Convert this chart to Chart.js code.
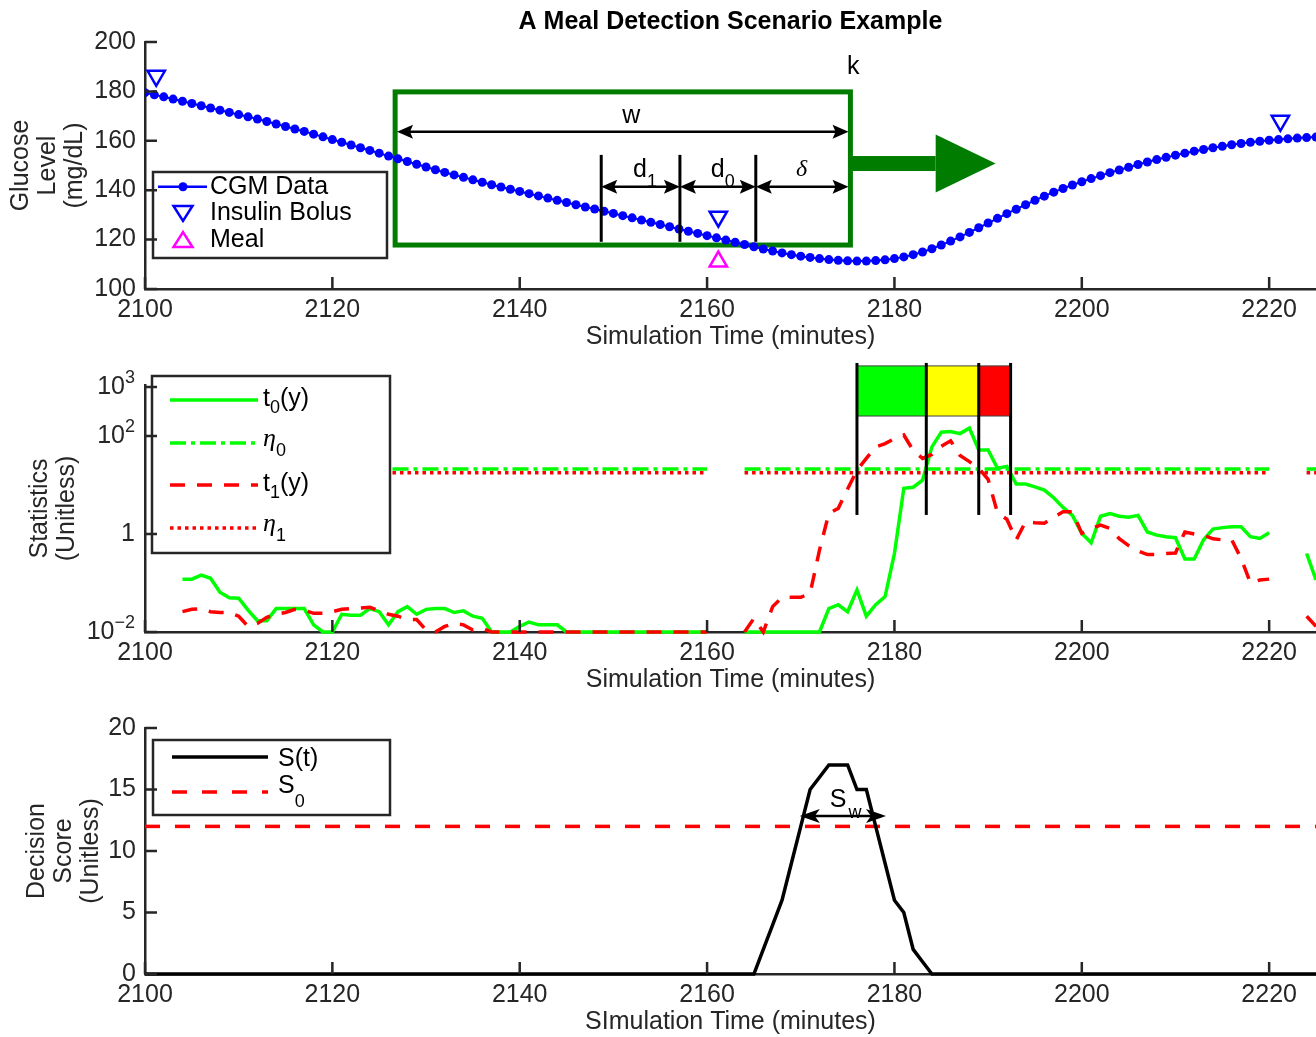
<!DOCTYPE html>
<html>
<head>
<meta charset="utf-8">
<script src="https://cdn.jsdelivr.net/npm/chart.js@4.4.0/dist/chart.umd.min.js"></script>
<style>
  html, body { margin: 0; padding: 0; background: #fff; }
  #wrap { position: relative; width: 1316px; height: 1037px; overflow: hidden; }
  canvas { position: absolute; left: 0; top: 0; }
</style>
</head>
<body>
<div id="wrap">
  <canvas id="cgmChart" width="1316" height="1037"></canvas>
  <canvas id="statChart" width="1316" height="1037"></canvas>
  <canvas id="scoreChart" width="1316" height="1037"></canvas>
</div>
<script>
// ---------- data ----------
const X_MIN = 2100, X_MAX = 2225;
const X_TICKS = [2100, 2120, 2140, 2160, 2180, 2200, 2220];
const MINUTES = Array.from({ length: 126 }, (_, i) => X_MIN + i); // one sample per minute

// CGM glucose (mg/dL), 2100..2225
const CGM = [
  179.5,178.6,177.8,176.9,176.0,175.1,174.2,173.3,172.4,171.5,
  170.6,169.7,168.8,167.8,166.8,165.8,164.8,163.8,162.7,161.6,
  160.5,159.4,158.3,157.2,156.1,155.0,153.8,152.7,151.6,150.5,
  149.4,148.3,147.2,146.2,145.2,144.2,143.2,142.2,141.3,140.4,
  139.5,138.6,137.7,136.8,135.9,135.0,134.1,133.2,132.4,131.5,
  130.6,129.7,128.8,127.9,127.0,126.1,125.2,124.3,123.4,122.5,
  121.6,120.7,119.8,118.9,118.0,117.1,116.2,115.4,114.6,113.9,
  113.3,112.8,112.3,111.9,111.6,111.4,111.3,111.3,111.5,111.8,
  112.3,113.0,113.9,115.0,116.3,117.8,119.4,121.1,122.9,124.8,
  126.7,128.6,130.5,132.3,134.1,135.9,137.6,139.2,140.7,142.1,
  143.4,144.7,145.9,147.1,148.2,149.3,150.4,151.4,152.4,153.3,
  154.2,155.0,155.8,156.5,157.2,157.8,158.4,158.9,159.4,159.8,
  160.2,160.5,160.8,161.1,161.3,161.5
];
const GLU_TICKS = [100, 120, 140, 160, 180, 200];
const BOLUS_TIME = [2101.2, 2161.2, 2221.2];
const BOLUS_LEVEL = [186.3, 129.3, 168.1];
const MEAL_TIME = [2161.2];
const MEAL_LEVEL = [111.1];

// test statistics, 2100..2225 (null = no value)
const T0 = [
  null,null,null,null,0.12,0.12,0.145,0.125,0.065,0.05,
  0.049,0.028,0.017,0.017,0.030,0.030,0.030,0.030,0.014,0.010,
  0.010,0.023,0.022,0.022,0.030,0.026,0.014,0.026,0.033,0.023,
  0.029,0.030,0.030,0.025,0.027,0.021,0.019,0.010,0.010,0.010,
  0.013,0.016,0.014,0.014,0.014,0.010,0.010,0.010,0.010,0.010,
  0.010,0.010,0.010,0.010,0.010,0.010,0.010,0.010,0.010,0.010,
  0.010,null,null,null,0.010,0.010,0.010,0.010,0.010,0.010,
  0.010,0.010,0.010,0.030,0.036,0.026,0.072,0.021,0.036,0.053,
  0.40,8.6,9.0,12.6,60,120,123,112,145,52,
  52,22,24,10.5,10.5,9.2,7.9,5.5,3.5,2.4,
  1.03,0.66,2.3,2.6,2.3,2.2,2.4,1.1,0.95,0.88,
  0.84,0.31,0.31,0.76,1.26,1.35,1.4,1.4,0.88,0.81,
  1.06,null,null,null,0.40,0.115
];
const T1 = [
  null,null,null,null,0.026,0.029,0.030,0.026,0.025,0.025,
  0.021,0.013,0.015,0.020,0.023,0.025,0.029,0.028,0.024,0.024,
  0.026,0.029,0.030,0.031,0.032,0.027,0.023,0.021,0.018,0.018,
  0.011,0.010,0.013,0.015,0.014,0.011,0.012,0.010,0.010,0.010,
  0.010,0.010,0.010,0.010,0.010,0.010,0.010,0.010,0.010,0.010,
  0.010,0.010,0.010,0.010,0.010,0.010,0.010,0.010,0.010,0.010,
  0.010,null,null,null,0.010,0.019,0.010,0.033,0.051,0.051,
  0.051,0.062,0.47,2.64,3.34,8.3,20,35,60,70,
  88,105,51,35,42,62,80,40,30,22,
  13,2.7,2.0,0.76,1.78,1.7,1.66,2.2,2.85,2.85,
  1.03,1.3,1.52,1.3,0.8,0.58,0.45,0.38,0.38,0.40,
  0.41,1.1,1.0,0.95,0.8,0.76,0.76,0.32,0.10,0.115,
  0.12,null,null,null,0.021,0.013
];
const ETA0 = 21.2, ETA1 = 17.8;
const ETA_SEGMENTS = [[2104, 2160], [2164, 2220], [2224, 2225]];
const STAT_TICKS = [0.01, 1, 100, 1000];
const ALARM_EDGES = [2176, 2183.4, 2189, 2192.4];
const ALARM_COLORS = ['#00FF00', '#FFFF00', '#FF0000'];

// decision score
const S_TIME = [2100,2165,2166,2167,2168,2169,2170,2171,2172,2173,2174,2175,2176,2177,2178,2179,2180,2181,2182,2183,2184,2225];
const S_VAL  = [0,   0,   2,   4,   6,   9,   12,  15,  16,  17,  17,  17,  15,  15,  12,  9,   6,   5,   2,   1,   0,   0];
const S0 = 12;
const SCORE_TICKS = [0, 5, 10, 15, 20];

// ---------- look ----------
const FONT = '"Liberation Sans", Arial, Helvetica, sans-serif';
const SERIF = '"Liberation Serif", "Times New Roman", serif';
const AXIS = '#262626';
const WIN_GREEN = '#007D00';
Chart.defaults.font.family = FONT;
Chart.defaults.font.size = 25;
Chart.defaults.color = AXIS;
Chart.defaults.animation = false;

function xScale(title) {
  return {
    type: 'linear', min: X_MIN, max: X_MAX,
    afterBuildTicks: s => { s.ticks = X_TICKS.map(v => ({ value: v })); },
    afterFit: s => { s.height = 62; },
    grid: { display: false, drawTicks: false },
    border: { display: true, color: AXIS, width: 2.5 },
    ticks: { padding: 6, color: AXIS, callback: v => String(v) },
    title: { display: true, text: title, color: AXIS, font: { size: 25, lineHeight: 1.08 }, padding: 0 }
  };
}
function yScale(opts, title, titlePad) {
  return Object.assign({
    afterFit: s => { s.width = 145; },
    grid: { display: false, drawTicks: false },
    border: { display: true, color: AXIS, width: 2.5 },
    ticks: { padding: 9, color: AXIS, callback: v => String(v) },
    title: { display: true, text: title, color: AXIS, font: { size: 25, lineHeight: 1.08 }, padding: { top: titlePad, bottom: 0 } }
  }, opts);
}

// MATLAB-style inward tick marks
const inTicks = {
  id: 'inTicks',
  afterDraw(chart) {
    const { ctx, chartArea: a, scales: { x, y } } = chart;
    ctx.save();
    ctx.strokeStyle = AXIS; ctx.lineWidth = 2.5;
    ctx.beginPath();
    x.ticks.forEach(t => { const p = x.getPixelForValue(t.value); ctx.moveTo(p, a.bottom); ctx.lineTo(p, a.bottom - 12); });
    y.ticks.forEach(t => { const p = y.getPixelForValue(t.value); ctx.moveTo(a.left, p); ctx.lineTo(a.left + 12, p); });
    ctx.stroke();
    ctx.restore();
  }
};

function pts(xs, ys) { return xs.map((x, i) => ({ x, y: ys[i] })); }

function head(ctx, tipX, tipY, dir, len, half, notch) {
  ctx.beginPath();
  ctx.moveTo(tipX, tipY);
  ctx.lineTo(tipX - dir * len, tipY - half);
  ctx.lineTo(tipX - dir * (len - notch), tipY);
  ctx.lineTo(tipX - dir * len, tipY + half);
  ctx.closePath();
  ctx.fill();
}
function dimArrow(ctx, x0, x1, y, len, half, notch) {
  ctx.beginPath(); ctx.moveTo(x0 + 4, y); ctx.lineTo(x1 - 4, y); ctx.stroke();
  head(ctx, x0, y, -1, len, half, notch);
  head(ctx, x1, y, 1, len, half, notch);
}
// text made of pieces: [text, font, dy]
function pieces(ctx, x, y, parts) {
  ctx.textAlign = 'left'; ctx.textBaseline = 'alphabetic';
  parts.forEach(([t, f, dy]) => { ctx.font = f; ctx.fillText(t, x, y + dy); x += ctx.measureText(t).width; });
}
function tri(ctx, x, y, down, color) {
  ctx.save(); ctx.strokeStyle = color; ctx.lineWidth = 2.5;
  ctx.beginPath();
  if (down) { ctx.moveTo(x - 9.5, y - 7); ctx.lineTo(x + 9.5, y - 7); ctx.lineTo(x, y + 8); }
  else { ctx.moveTo(x - 9.5, y + 7); ctx.lineTo(x + 9.5, y + 7); ctx.lineTo(x, y - 8); }
  ctx.closePath(); ctx.stroke(); ctx.restore();
}
function legendBox(ctx, x, y, w, h) {
  ctx.fillStyle = '#fff'; ctx.fillRect(x, y, w, h);
  ctx.strokeStyle = AXIS; ctx.lineWidth = 2.5; ctx.strokeRect(x, y, w, h);
}

const F25 = '25px ' + FONT, F18 = '18px ' + FONT;

// ---------- panel 1: CGM ----------
const cgmDecor = {
  id: 'cgmDecor',
  beforeDatasetsDraw(chart) {
    const { ctx, scales: { x, y } } = chart;
    const X = v => x.getPixelForValue(v), Y = v => y.getPixelForValue(v);
    ctx.save();
    ctx.strokeStyle = WIN_GREEN; ctx.lineWidth = 5;
    ctx.strokeRect(X(2126.7), Y(179.8), X(2175.3) - X(2126.7), Y(117.8) - Y(179.8));
    ctx.restore();
  },
  afterDatasetsDraw(chart) {
    const { ctx, chartArea: a, scales: { x, y } } = chart;
    const X = v => x.getPixelForValue(v), Y = v => y.getPixelForValue(v);
    ctx.save();
    // sliding direction arrow
    ctx.fillStyle = WIN_GREEN;
    const ay = Y(150.8);
    ctx.fillRect(X(2175.3), ay - 7.5, X(2184.4) - X(2175.3), 15);
    ctx.beginPath(); ctx.moveTo(X(2184.4), ay - 29); ctx.lineTo(X(2190.8), ay); ctx.lineTo(X(2184.4), ay + 29); ctx.closePath(); ctx.fill();
    // dimension marks
    ctx.strokeStyle = '#000'; ctx.fillStyle = '#000'; ctx.lineWidth = 3;
    [2148.7, 2157.1, 2165.2].forEach(v => { ctx.beginPath(); ctx.moveTo(X(v), Y(154.3)); ctx.lineTo(X(v), Y(119.1)); ctx.stroke(); });
    ctx.lineWidth = 2.5;
    dimArrow(ctx, X(2126.9), X(2175.1), Y(163.7), 16, 7, 3);
    dimArrow(ctx, X(2148.7), X(2157.1), Y(141.4), 16, 7, 3);
    dimArrow(ctx, X(2157.1), X(2165.2), Y(141.4), 16, 7, 3);
    dimArrow(ctx, X(2165.2), X(2175.1), Y(141.4), 16, 7, 3);
    ctx.fillStyle = '#000';
    ctx.font = F25; ctx.textAlign = 'center'; ctx.textBaseline = 'alphabetic';
    ctx.fillText('w', X(2151.9), Y(167.1));
    ctx.fillText('k', X(2175.6), Y(186.9));
    pieces(ctx, X(2152.1), Y(145.5), [['d', F25, 0], ['1', F18, 10]]);
    pieces(ctx, X(2160.4), Y(145.5), [['d', F25, 0], ['0', F18, 10]]);
    ctx.font = 'italic 24px ' + SERIF; ctx.textAlign = 'center';
    ctx.fillText('\u03b4', X(2170.1), Y(145.6));
    // legend
    const lx = a.left + 8, ly = a.top + 130;
    legendBox(ctx, lx, ly, 234, 86);
    ctx.strokeStyle = '#0000FF'; ctx.fillStyle = '#0000FF'; ctx.lineWidth = 2.5;
    ctx.beginPath(); ctx.moveTo(lx + 5, ly + 14.7); ctx.lineTo(lx + 54, ly + 14.7); ctx.stroke();
    ctx.beginPath(); ctx.arc(lx + 30, ly + 14.7, 4.5, 0, Math.PI * 2); ctx.fill();
    tri(ctx, lx + 30, ly + 41, true, '#0000FF');
    tri(ctx, lx + 30, ly + 68, false, '#FF00FF');
    ctx.fillStyle = '#000'; ctx.font = F25; ctx.textAlign = 'left'; ctx.textBaseline = 'middle';
    ctx.fillText('CGM Data', lx + 57, ly + 14.7);
    ctx.fillText('Insulin Bolus', lx + 57, ly + 41);
    ctx.fillText('Meal', lx + 57, ly + 68);
    // title
    ctx.font = 'bold 25px ' + FONT; ctx.textAlign = 'center'; ctx.textBaseline = 'middle';
    ctx.fillText('A Meal Detection Scenario Example', (a.left + a.right) / 2, 22);
    ctx.restore();
  }
};

new Chart(document.getElementById('cgmChart'), {
  type: 'line',
  data: {
    datasets: [
      { label: 'CGM Data', data: pts(MINUTES, CGM), borderColor: '#0000FF', borderWidth: 2,
        pointRadius: 4.5, pointBackgroundColor: '#0000FF', pointBorderWidth: 0, order: 3 },
      { label: 'Insulin Bolus', data: pts(BOLUS_TIME, BOLUS_LEVEL), showLine: false, pointStyle: 'triangle',
        pointRotation: 180, pointRadius: 10, pointBorderColor: '#0000FF', pointBorderWidth: 2.5,
        pointBackgroundColor: 'rgba(0,0,0,0)', order: 2 },
      { label: 'Meal', data: pts(MEAL_TIME, MEAL_LEVEL), showLine: false, pointStyle: 'triangle',
        pointRadius: 10, pointBorderColor: '#FF00FF', pointBorderWidth: 2.5,
        pointBackgroundColor: 'rgba(0,0,0,0)', order: 1 }
    ]
  },
  options: {
    responsive: false, devicePixelRatio: 1,
    layout: { autoPadding: false, padding: { left: 0, right: 0, top: 42, bottom: 1037 - 289 - 62 } },
    plugins: { legend: { display: false }, tooltip: { enabled: false } },
    scales: {
      x: xScale('Simulation Time (minutes)'),
      y: yScale({ type: 'linear', min: 100, max: 200,
        afterBuildTicks: s => { s.ticks = GLU_TICKS.map(v => ({ value: v })); } },
        ['Glucose', 'Level', '(mg/dL)'], 8)
    }
  },
  plugins: [inTicks, cgmDecor]
});

// ---------- panel 2: statistics ----------
function etaPoints(level) {
  const out = [];
  ETA_SEGMENTS.forEach(([a, b], i) => {
    if (i) out.push({ x: a - 0.5, y: null });
    out.push({ x: a, y: level }, { x: b, y: level });
  });
  return out;
}

const statDecor = {
  id: 'statDecor',
  afterDatasetsDraw(chart) {
    const { ctx, chartArea: a, scales: { x, y } } = chart;
    const X = v => x.getPixelForValue(v), Y = v => y.getPixelForValue(v);
    ctx.save();
    // alarm bar
    for (let i = 0; i < ALARM_COLORS.length; i++) {
      ctx.fillStyle = ALARM_COLORS[i];
      ctx.fillRect(X(ALARM_EDGES[i]), Y(2700), X(ALARM_EDGES[i + 1]) - X(ALARM_EDGES[i]), Y(256) - Y(2700));
      ctx.strokeStyle = '#444'; ctx.lineWidth = 1;
      ctx.strokeRect(X(ALARM_EDGES[i]), Y(2700), X(ALARM_EDGES[i + 1]) - X(ALARM_EDGES[i]), Y(256) - Y(2700));
    }
    ctx.strokeStyle = '#000'; ctx.lineWidth = 3;
    ALARM_EDGES.forEach(v => { ctx.beginPath(); ctx.moveTo(X(v), Y(3100)); ctx.lineTo(X(v), Y(2.45)); ctx.stroke(); });
    // legend
    const lx = a.left + 7, ly = a.top - 9;
    legendBox(ctx, lx, ly, 238, 177);
    const rows = [
      { dy: 24, color: '#00FF00', dash: [], parts: [['t', F25, 6], ['0', F18, 13], ['(y)', F25, 6]] },
      { dy: 67, color: '#00FF00', dash: [16, 5, 4, 5], parts: [['\u03b7', 'italic 26px ' + SERIF, 3], ['0', F18, 13]] },
      { dy: 109, color: '#FF0000', dash: [15, 12], parts: [['t', F25, 6], ['1', F18, 13], ['(y)', F25, 6]] },
      { dy: 152, color: '#FF0000', dash: [3.5, 4], parts: [['\u03b7', 'italic 26px ' + SERIF, 3], ['1', F18, 13]] }
    ];
    rows.forEach(r => {
      const ry = ly + r.dy;
      ctx.strokeStyle = r.color; ctx.lineWidth = 3.5; ctx.setLineDash(r.dash);
      ctx.beginPath(); ctx.moveTo(lx + 18, ry); ctx.lineTo(lx + 106, ry); ctx.stroke();
      ctx.setLineDash([]);
      ctx.fillStyle = '#000';
      pieces(ctx, lx + 111, ry, r.parts);
    });
    // log tick labels 10^n
    ctx.fillStyle = AXIS;
    STAT_TICKS.forEach(v => {
      const e = Math.round(Math.log10(v)), py = Y(v), right = a.left - 10;
      ctx.textBaseline = 'middle'; ctx.textAlign = 'right';
      if (e === 0) { ctx.font = F25; ctx.fillText('1', right, py); return; }
      const ex = String(e).replace('-', '\u2212');
      ctx.font = F18; const ew = ctx.measureText(ex).width;
      ctx.fillText(ex, right, py - 9);
      ctx.font = F25; ctx.fillText('10', right - ew, py);
    });
    ctx.restore();
  }
};

new Chart(document.getElementById('statChart'), {
  type: 'line',
  data: {
    datasets: [
      { label: 't0(y)', data: pts(MINUTES, T0), borderColor: '#00FF00', borderWidth: 3.5, pointRadius: 0, clip: false, order: 4 },
      { label: 'eta0', data: etaPoints(ETA0), borderColor: '#00FF00', borderWidth: 3.5, borderDash: [16, 5, 4, 5], pointRadius: 0, order: 3 },
      { label: 't1(y)', data: pts(MINUTES, T1), borderColor: '#FF0000', borderWidth: 3.5, borderDash: [15, 12], pointRadius: 0, clip: false, order: 2 },
      { label: 'eta1', data: etaPoints(ETA1), borderColor: '#FF0000', borderWidth: 3.5, borderDash: [3.5, 4], pointRadius: 0, order: 1 }
    ]
  },
  options: {
    responsive: false, devicePixelRatio: 1, spanGaps: false,
    layout: { autoPadding: false, padding: { left: 0, right: 0, top: 385, bottom: 1037 - 632 - 62 } },
    plugins: { legend: { display: false }, tooltip: { enabled: false } },
    scales: {
      x: xScale('Simulation Time (minutes)'),
      y: yScale({ type: 'logarithmic', min: 0.01, max: 1100,
        afterBuildTicks: s => { s.ticks = STAT_TICKS.map(v => ({ value: v })); },
        ticks: { padding: 9, callback: () => '' } },
        ['Statistics', '(Unitless)'], 26.5)
    }
  },
  plugins: [inTicks, statDecor]
});

// ---------- panel 3: decision score ----------
const scoreDecor = {
  id: 'scoreDecor',
  afterDatasetsDraw(chart) {
    const { ctx, chartArea: a, scales: { x, y } } = chart;
    const X = v => x.getPixelForValue(v), Y = v => y.getPixelForValue(v);
    ctx.save();
    ctx.strokeStyle = '#000'; ctx.fillStyle = '#000'; ctx.lineWidth = 2.5;
    dimArrow(ctx, X(2169.9), X(2179.1), Y(12.85), 20, 7, 5);
    pieces(ctx, X(2173.1), Y(13.6), [['S', F25, 0]]);
    pieces(ctx, X(2175.1), Y(12.7), [['w', F18, 0]]);
    // legend
    const lx = a.left + 8, ly = a.top + 12;
    legendBox(ctx, lx, ly, 237, 75);
    ctx.lineWidth = 3.5;
    ctx.strokeStyle = '#000';
    ctx.beginPath(); ctx.moveTo(lx + 19, ly + 17); ctx.lineTo(lx + 115, ly + 17); ctx.stroke();
    ctx.strokeStyle = '#FF0000'; ctx.setLineDash([15, 15]);
    ctx.beginPath(); ctx.moveTo(lx + 19, ly + 52); ctx.lineTo(lx + 115, ly + 52); ctx.stroke();
    ctx.setLineDash([]);
    ctx.fillStyle = '#000';
    pieces(ctx, lx + 125, ly + 17, [['S(t)', F25, 9]]);
    pieces(ctx, lx + 125, ly + 52, [['S', F25, 1], ['0', F18, 15]]);
    ctx.restore();
  }
};

new Chart(document.getElementById('scoreChart'), {
  type: 'line',
  data: {
    datasets: [
      { label: 'S(t)', data: pts(S_TIME, S_VAL), borderColor: '#000', borderWidth: 3.5, pointRadius: 0, clip: false, order: 1 },
      { label: 'S0', data: [{ x: X_MIN, y: S0 }, { x: X_MAX, y: S0 }], borderColor: '#FF0000', borderWidth: 3.5,
        borderDash: [15, 15], pointRadius: 0, order: 2 }
    ]
  },
  options: {
    responsive: false, devicePixelRatio: 1,
    layout: { autoPadding: false, padding: { left: 0, right: 0, top: 728, bottom: 1037 - 974 - 62 } },
    plugins: { legend: { display: false }, tooltip: { enabled: false } },
    scales: {
      x: xScale('SImulation Time (minutes)'),
      y: yScale({ type: 'linear', min: 0, max: 20,
        afterBuildTicks: s => { s.ticks = SCORE_TICKS.map(v => ({ value: v })); } },
        ['Decision', 'Score', '(Unitless)'], 23.5)
    }
  },
  plugins: [inTicks, scoreDecor]
});
</script>
</body>
</html>
